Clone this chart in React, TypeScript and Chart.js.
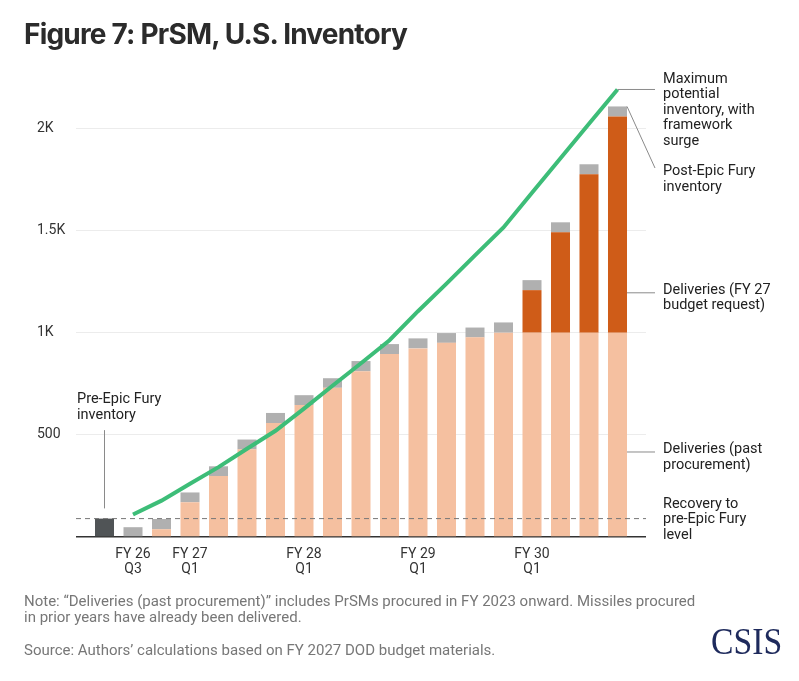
import Chart from "chart.js/auto";
import { useEffect, useRef } from "react";

// quarter index 0 = pre-Epic Fury inventory, then FY 26 Q3 ... FY 30 Q4
const quarters = [0, 1, 2, 3, 4, 5, 6, 7, 8, 9, 10, 11, 12, 13, 14, 15, 16, 17, 18];

const preEpicFury = [90, 0, 0, 0, 0, 0, 0, 0, 0, 0, 0, 0, 0, 0, 0, 0, 0, 0, 0];
const pastProcurement = [0, 0, 38, 170, 298, 429, 558, 646, 730, 811, 895, 923, 950, 977, 1000, 1000, 1000, 1000, 1000];
const budgetRequest = [0, 0, 0, 0, 0, 0, 0, 0, 0, 0, 0, 0, 0, 0, 0, 208, 491, 775, 1058];
const postEpicFury = [0, 48, 50, 48, 48, 48, 49, 48, 47, 50, 49, 49, 48, 48, 50, 49, 49, 49, 49];
const maxPotential = [null, 110, 178, 261, 342, 432, 520, 628, 740, 850, 963, 1105, 1240, 1378, 1515, 1685, 1853, 2022, 2190];

const recoveryLevel = 90;

const xTickValues = [1, 3, 7, 11, 15];
const xTickLabels = [["FY 26", "Q3"], ["FY 27", "Q1"], ["FY 28", "Q1"], ["FY 29", "Q1"], ["FY 30", "Q1"]];
const yTickValues = [0, 500, 1000, 1500, 2000];
const yTickLabels = ["", "500", "1K", "1.5K", "2K"];

const FONT = "Roboto";

const toPoints = (vals: (number | null)[]) =>
  quarters.map((q, i) => ({ x: q, y: vals[i] })).filter((p) => p.y !== null && p.y !== 0);

const annotationPlugin = {
  id: "annotations",
  afterDatasetsDraw(chart: any) {
    const { ctx, chartArea, scales } = chart;
    const x = scales.x;
    const y = scales.y;
    ctx.save();

    // recovery dashed line
    ctx.strokeStyle = "#777";
    ctx.lineWidth = 1;
    ctx.setLineDash([5, 4]);
    ctx.beginPath();
    ctx.moveTo(chartArea.left, y.getPixelForValue(recoveryLevel));
    ctx.lineTo(chartArea.right, y.getPixelForValue(recoveryLevel));
    ctx.stroke();
    ctx.setLineDash([]);

    const last = quarters.length - 1;
    const barRight = x.getPixelForValue(last) + 9.5;
    const labelX = 663;
    const lineEnd = 655;

    ctx.strokeStyle = "#8a8a8a";
    ctx.beginPath();
    // max potential
    const mY = y.getPixelForValue(maxPotential[last] as number);
    ctx.moveTo(x.getPixelForValue(last), mY);
    ctx.lineTo(lineEnd, mY);
    // post-epic fury
    const topLast = pastProcurement[last] + budgetRequest[last] + postEpicFury[last];
    ctx.moveTo(barRight, y.getPixelForValue(topLast));
    ctx.lineTo(lineEnd, 168);
    // FY27 budget request
    ctx.moveTo(barRight, y.getPixelForValue(1195));
    ctx.lineTo(lineEnd, y.getPixelForValue(1195));
    // past procurement
    ctx.moveTo(barRight, y.getPixelForValue(416));
    ctx.lineTo(lineEnd, y.getPixelForValue(416));
    // pre-epic fury
    ctx.moveTo(x.getPixelForValue(0), y.getPixelForValue(140));
    ctx.lineTo(x.getPixelForValue(0), y.getPixelForValue(523));
    ctx.stroke();

    ctx.fillStyle = "#222";
    ctx.font = `14.5px ${FONT}`;
    ctx.textBaseline = "middle";
    ctx.textAlign = "left";
    const lh = 15.6;
    const block = (lines: string[], tx: number, ty: number) =>
      lines.forEach((l, i) => ctx.fillText(l, tx, ty + i * lh));
    block(["Maximum", "potential", "inventory, with", "framework", "surge"], labelX, 79);
    block(["Post-Epic Fury", "inventory"], labelX, 171.5);
    block(["Deliveries (FY 27", "budget request)"], labelX, 290);
    block(["Deliveries (past", "procurement)"], labelX, 449.5);
    block(["Recovery to", "pre-Epic Fury", "level"], labelX, 504);
    block(["Pre-Epic Fury", "inventory"], 77, 399.5);
    ctx.restore();
  },
};

const PrsmInventory: React.FC = () => {
  const chartRef = useRef<HTMLCanvasElement | null>(null);

  useEffect(() => {
    if (!chartRef.current) return;
    const ctx = chartRef.current.getContext("2d");
    if (!ctx) return;

    const bar = (label: string, vals: number[], color: string) => ({
      type: "bar" as const,
      label,
      data: toPoints(vals),
      backgroundColor: color,
      stack: "inv",
      order: 1,
      barPercentage: 0.667,
      categoryPercentage: 1,
    });

    const myChart = new Chart(ctx, {
      type: "bar",
      data: {
        datasets: [
          {
            type: "line",
            label: "Maximum potential inventory, with framework surge",
            data: toPoints(maxPotential),
            borderColor: "#3dbd78",
            borderWidth: 4,
            pointRadius: 0,
            tension: 0,
            stack: "max",
            order: 0,
          } as any,
          bar("Pre-Epic Fury inventory", preEpicFury, "#505456"),
          bar("Deliveries (past procurement)", pastProcurement, "#f5c0a0"),
          bar("Deliveries (FY 27 budget request)", budgetRequest, "#cf5c18"),
          bar("Post-Epic Fury inventory", postEpicFury, "#b0b0b0"),
        ],
      },
      options: {
        animation: false,
        responsive: true,
        maintainAspectRatio: false,
        layout: { padding: { left: 37, right: 153, top: 67, bottom: 94 } },
        plugins: { legend: { display: false }, tooltip: { enabled: false } },
        scales: {
          x: {
            type: "linear",
            min: -1,
            max: 19,
            offset: false,
            stacked: true,
            grid: { display: false },
            border: { display: false },
            afterBuildTicks: (scale: any) => {
              scale.ticks = xTickValues.map((v) => ({ value: v }));
            },
            afterFit: (scale: any) => {
              scale.height = 50;
            },
            ticks: {
              autoSkip: false,
              maxRotation: 0,
              padding: 2,
              color: "#333",
              font: { family: FONT, size: 14, lineHeight: 1.05 },
              callback: (value: any) => {
                const i = xTickValues.indexOf(Number(value));
                return i >= 0 ? xTickLabels[i] : "";
              },
            },
          },
          y: {
            min: 0,
            max: 2300,
            stacked: true,
            border: { display: false },
            grid: {
              drawTicks: false,
              color: (c: any) => (c.tick && c.tick.value === 0 ? "#333" : "#ececec"),
              lineWidth: (c: any) => (c.tick && c.tick.value === 0 ? 1.5 : 1),
            },
            afterBuildTicks: (scale: any) => {
              scale.ticks = yTickValues.map((v) => ({ value: v }));
            },
            afterFit: (scale: any) => {
              scale.width = 39;
            },
            ticks: {
              crossAlign: "far",
              padding: 0,
              color: "#333",
              font: { family: FONT, size: 14 },
              callback: (value: any) => {
                const i = yTickValues.indexOf(Number(value));
                return i >= 0 ? yTickLabels[i] : "";
              },
            },
          },
        },
      },
      plugins: [annotationPlugin],
    });
    return () => myChart.destroy();
  }, []);

  return (
    <div style={{ position: "fixed", left: 0, top: 0, width: 799, height: 681, background: "#fff", overflow: "hidden" }}>
      <div style={{ position: "absolute", left: 0, top: 0, width: 799, height: 681 }}>
        <canvas ref={chartRef} />
      </div>
      <div style={{ position: "absolute", left: 24, top: 17, fontFamily: "Inter", fontWeight: 700, fontSize: 28, lineHeight: "34px", color: "#2b2b2b", letterSpacing: -0.8, whiteSpace: "nowrap" }}>
        Figure 7: PrSM, U.S. Inventory
      </div>
      <div style={{ position: "absolute", left: 24, top: 593, fontFamily: FONT, fontSize: 15, lineHeight: "16px", color: "#777", width: 720 }}>
        Note: “Deliveries (past procurement)” includes PrSMs procured in FY 2023 onward. Missiles procured
        <br />
        in prior years have already been delivered.
      </div>
      <div style={{ position: "absolute", left: 24, top: 642, fontFamily: FONT, fontSize: 15, lineHeight: "16px", color: "#777", whiteSpace: "nowrap" }}>
        Source: Authors’ calculations based on FY 2027 DOD budget materials.
      </div>
      <div style={{ position: "absolute", left: 711, top: 620, fontFamily: "Liberation Serif", fontSize: 37, lineHeight: "44px", color: "#1e2a5c", transform: "scaleX(0.91)", transformOrigin: "left top", whiteSpace: "nowrap" }}>
        CSIS
      </div>
    </div>
  );
};

export default function App() {
  return <PrsmInventory />;
}
